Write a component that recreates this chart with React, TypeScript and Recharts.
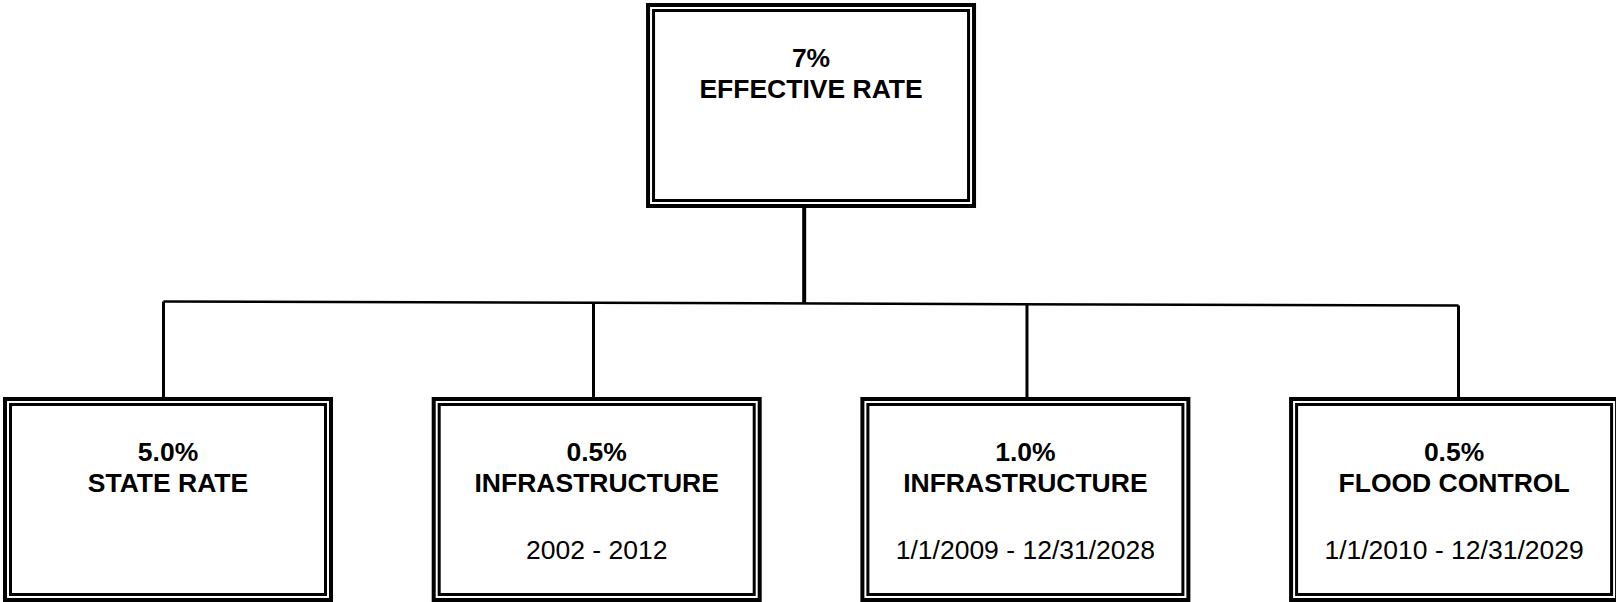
import React from "react";
import { ScatterChart, Scatter, XAxis, YAxis } from "recharts";

// one entry per box: top box first, then the four components left to right
const nodeRates = ["7%", "5.0%", "0.5%", "1.0%", "0.5%"];
const nodeNames = [
  "EFFECTIVE RATE",
  "STATE RATE",
  "INFRASTRUCTURE",
  "INFRASTRUCTURE",
  "FLOOD CONTROL",
];
const nodePeriods = ["", "", "2002 - 2012", "1/1/2009 - 12/31/2028", "1/1/2010 - 12/31/2029"];
const nodeColumns = [1.5, 0, 1, 2, 3];
const nodeLevels = [0, 1, 1, 1, 1];

// connector layout, in the same column / level units
const trunkColumn = 1.484;
const busColumns = [-0.0105, 3.0103];
const busLevels = [0.4975, 0.5076];
const dropColumns = [-0.0105, 0.9925, 2.0037, 3.0103];
const topBoxBottom = 0.2602;
const childBoxTop = 0.7398;

const WIDTH = 1616;
const HEIGHT = 602;
const BOX_W = 330;
const BOX_H = 205;
const FONT = "'Liberation Sans', Arial, sans-serif";
const FONT_SIZE = 26.5;

const nodes = nodeRates.map((rate, i) => ({
  x: nodeColumns[i],
  y: nodeLevels[i],
  rate,
  name: nodeNames[i],
  period: nodePeriods[i],
}));

const busAt = (col: number) =>
  busLevels[0] +
  ((busLevels[1] - busLevels[0]) * (col - busColumns[0])) /
    (busColumns[1] - busColumns[0]);

const trunk = [
  { x: trunkColumn, y: topBoxBottom },
  { x: trunkColumn, y: busAt(trunkColumn) },
];
const bus = busColumns.map((c, i) => ({ x: c, y: busLevels[i] }));
const drops = dropColumns.map((c) => [
  { x: c, y: busAt(c) },
  { x: c, y: childBoxTop },
]);

const NoPoint = () => <g />;

const NodeBox = (props: any) => {
  const { cx, cy, payload } = props;
  const left = cx - BOX_W / 2;
  const top = cy - BOX_H / 2;
  return (
    <g>
      <rect
        x={left + 2}
        y={top + 2}
        width={BOX_W - 4}
        height={BOX_H - 4}
        fill="#fff"
        stroke="#000"
        strokeWidth={4}
      />
      <rect
        x={left + 7.5}
        y={top + 7.5}
        width={BOX_W - 15}
        height={BOX_H - 15}
        fill="none"
        stroke="#000"
        strokeWidth={3}
      />
      <text
        x={cx}
        y={top + 64}
        textAnchor="middle"
        fontFamily={FONT}
        fontWeight="bold"
        fontSize={FONT_SIZE}
        fill="#000"
      >
        {payload.rate}
      </text>
      <text
        x={cx}
        y={top + 95}
        textAnchor="middle"
        fontFamily={FONT}
        fontWeight="bold"
        fontSize={FONT_SIZE}
        fill="#000"
      >
        {payload.name}
      </text>
      {payload.period && (
        <text
          x={cx}
          y={top + 162}
          textAnchor="middle"
          fontFamily={FONT}
          fontSize={FONT_SIZE}
          fill="#000"
        >
          {payload.period}
        </text>
      )}
    </g>
  );
};

const App = () => {
  return (
    <div
      style={{
        position: "absolute",
        left: 0,
        top: 0,
        width: WIDTH,
        height: HEIGHT,
        overflow: "hidden",
        background: "#fff",
      }}
    >
      <ScatterChart
        width={WIDTH}
        height={HEIGHT}
        margin={{ top: 0, right: 0, bottom: 0, left: 0 }}
      >
        <XAxis
          type="number"
          dataKey="x"
          domain={[-0.3919, 3.3777]}
          allowDataOverflow
          hide
        />
        <YAxis
          type="number"
          dataKey="y"
          domain={[-0.2678, 1.2602]}
          allowDataOverflow
          reversed
          hide
        />
        <Scatter
          data={trunk}
          fill="#000"
          line={{ stroke: "#000", strokeWidth: 4 }}
          shape={NoPoint}
          isAnimationActive={false}
        />
        <Scatter
          data={bus}
          fill="#000"
          line={{ stroke: "#000", strokeWidth: 2.5 }}
          shape={NoPoint}
          isAnimationActive={false}
        />
        {drops.map((d, i) => (
          <Scatter
            key={`drop-${i}`}
            data={d}
            fill="#000"
            line={{ stroke: "#000", strokeWidth: 3 }}
            shape={NoPoint}
            isAnimationActive={false}
          />
        ))}
        <Scatter
          data={nodes}
          fill="#000"
          shape={NodeBox}
          isAnimationActive={false}
        />
      </ScatterChart>
    </div>
  );
};

export default App;
